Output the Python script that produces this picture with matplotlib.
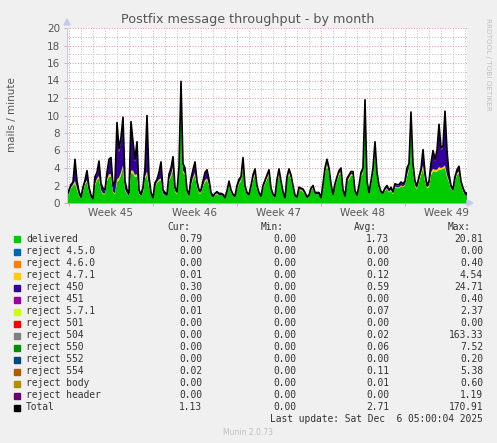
import numpy as np
import matplotlib
matplotlib.use("Agg")
from matplotlib import pyplot as plt
from matplotlib.patches import Rectangle, Polygon

# munin postfix_mailstats, monthly view, one sample every 4 hours
delivered = [
    0.8, 1.0, 1.7, 2.0, 2.2, 1.5, 0.8, 0.5, 1.3, 2.2,
    2.4, 1.2, 0.6, 0.4, 2.0, 2.6, 2.8, 1.4, 1.0, 1.0,
    2.5, 3.0, 3.0, 1.2, 1.0, 2.4, 2.6, 3.2, 4.0, 1.5,
    1.0, 0.8, 3.4, 3.4, 3.0, 3.0, 1.0, 0.8, 1.2, 2.8,
    3.2, 1.8, 1.0, 0.5, 1.8, 2.3, 2.5, 2.6, 1.0, 0.9,
    0.8, 2.5, 3.0, 3.8, 1.3, 1.0, 3.5, 12.9, 3.5, 3.2,
    1.1, 0.7, 2.0, 2.7, 3.2, 1.8, 1.1, 1.1, 1.9, 2.4,
    2.6, 2.0, 0.9, 0.6, 0.9, 1.0, 0.9, 0.9, 0.8, 0.5,
    1.1, 2.1, 1.2, 0.8, 0.6, 1.6, 2.2, 2.5, 4.3, 1.6,
    1.0, 0.8, 1.6, 2.6, 3.2, 1.6, 1.0, 0.6, 1.7, 2.2,
    2.7, 3.2, 1.4, 0.8, 0.6, 2.3, 3.3, 2.1, 1.1, 0.5,
    2.6, 3.3, 2.7, 1.7, 0.7, 0.6, 1.5, 1.4, 1.3, 1.0,
    0.6, 0.7, 1.4, 1.7, 1.0, 1.0, 1.0, 0.5, 1.9, 3.4,
    4.3, 3.4, 1.9, 0.8, 1.9, 2.6, 3.2, 3.4, 1.3, 0.7,
    2.4, 2.7, 3.1, 3.1, 1.2, 0.8, 1.7, 3.0, 3.4, 10.8,
    2.1, 1.0, 2.1, 3.3, 6.0, 3.0, 1.7, 1.1, 1.0, 1.4,
    1.6, 1.2, 1.4, 1.0, 1.8, 1.7, 1.7, 1.9, 1.8, 2.0,
    3.0, 3.8, 9.3, 3.6, 1.9, 1.6, 2.4, 3.2, 4.0, 2.5,
    1.7, 1.8, 3.2, 3.6, 3.6, 3.6, 3.8, 3.8, 3.9, 4.0,
    3.0, 2.4, 1.6, 1.3, 2.5, 3.2, 3.4, 2.0, 1.3, 0.9,
    0.79,
]
reject_471 = [
    0.0, 0.1, 0.1, 0.1, 0.3, 0.2, 0.1, 0.0, 0.1, 0.1,
    0.2, 0.1, 0.0, 0.0, 0.2, 0.2, 0.3, 0.1, 0.1, 0.1,
    0.2, 0.3, 0.3, 0.1, 0.1, 0.3, 0.3, 0.3, 0.3, 0.1,
    0.1, 0.0, 0.3, 0.3, 0.2, 0.3, 0.1, 0.0, 0.1, 0.2,
    0.4, 0.2, 0.0, 0.0, 0.1, 0.1, 0.2, 0.2, 0.1, 0.0,
    0.0, 0.2, 0.2, 0.3, 0.1, 0.1, 0.2, 0.2, 0.2, 0.2,
    0.1, 0.0, 0.1, 0.2, 0.3, 0.1, 0.1, 0.1, 0.1, 0.2,
    0.2, 0.1, 0.0, 0.0, 0.1, 0.1, 0.0, 0.0, 0.0, 0.0,
    0.1, 0.1, 0.1, 0.0, 0.0, 0.1, 0.1, 0.2, 0.3, 0.1,
    0.0, 0.0, 0.1, 0.2, 0.2, 0.1, 0.0, 0.0, 0.1, 0.1,
    0.2, 0.2, 0.1, 0.0, 0.0, 0.1, 0.2, 0.1, 0.0, 0.0,
    0.1, 0.2, 0.2, 0.1, 0.0, 0.0, 0.1, 0.1, 0.1, 0.0,
    0.0, 0.0, 0.1, 0.1, 0.0, 0.0, 0.0, 0.0, 0.1, 0.2,
    0.2, 0.2, 0.1, 0.0, 0.1, 0.1, 0.2, 0.2, 0.0, 0.0,
    0.1, 0.2, 0.2, 0.2, 0.0, 0.0, 0.1, 0.2, 0.2, 0.3,
    0.1, 0.0, 0.1, 0.2, 0.3, 0.2, 0.1, 0.0, 0.0, 0.1,
    0.1, 0.1, 0.1, 0.1, 0.1, 0.1, 0.1, 0.1, 0.1, 0.1,
    0.2, 0.2, 0.3, 0.2, 0.1, 0.1, 0.2, 0.2, 0.3, 0.2,
    0.1, 0.2, 0.3, 0.3, 0.2, 0.2, 0.3, 0.2, 0.2, 0.3,
    0.2, 0.1, 0.1, 0.0, 0.1, 0.2, 0.2, 0.1, 0.1, 0.0,
    0.01,
]
reject_450 = [
    0.1, 0.3, 0.2, 0.2, 2.3, 0.6, 0.3, 0.2, 0.3, 0.2,
    0.9, 0.4, 0.3, 0.1, 0.7, 0.5, 1.5, 0.6, 0.5, 0.3,
    0.6, 1.5, 1.6, 0.6, 1.3, 6.1, 2.9, 3.6, 5.0, 0.8,
    0.3, 0.4, 5.1, 2.9, 1.5, 3.3, 0.3, 0.2, 0.4, 0.8,
    5.9, 0.8, 0.2, 0.1, 0.3, 0.2, 0.7, 1.7, 0.3, 0.3,
    0.2, 0.5, 0.6, 1.0, 0.3, 0.1, 0.3, 0.6, 0.6, 0.4,
    0.2, 0.3, 0.6, 0.8, 1.0, 0.5, 0.2, 0.2, 0.4, 0.8,
    0.8, 0.5, 0.3, 0.2, 0.1, 0.1, 0.2, 0.2, 0.2, 0.1,
    0.1, 0.2, 0.1, 0.2, 0.2, 0.2, 0.3, 0.2, 0.4, 0.2,
    0.2, 0.2, 0.2, 0.3, 0.3, 0.2, 0.2, 0.2, 0.1, 0.2,
    0.2, 0.2, 0.1, 0.2, 0.2, 0.2, 0.2, 0.2, 0.2, 0.1,
    0.2, 0.2, 0.2, 0.1, 0.2, 0.1, 0.1, 0.1, 0.1, 0.2,
    0.1, 0.2, 0.1, 0.1, 0.2, 0.2, 0.2, 0.1, 0.1, 0.2,
    0.3, 0.2, 0.1, 0.2, 0.1, 0.2, 0.2, 0.2, 0.2, 0.1,
    0.2, 0.2, 0.2, 0.2, 0.2, 0.1, 0.1, 0.2, 0.2, 0.4,
    0.2, 0.2, 0.2, 0.3, 0.4, 0.2, 0.1, 0.2, 0.2, 0.1,
    0.2, 0.1, 0.2, 0.2, 0.2, 0.2, 0.2, 0.3, 0.2, 0.3,
    0.6, 0.3, 0.5, 0.5, 0.4, 0.2, 0.3, 0.3, 1.6, 0.6,
    0.1, 0.4, 0.8, 1.9, 1.0, 2.0, 4.6, 2.1, 2.2, 5.9,
    2.6, 0.7, 0.2, 0.3, 0.3, 0.3, 0.4, 0.3, 0.2, 0.3,
    0.30,
]
reject_554 = [
    0.0, 0.1, 0.1, 0.1, 0.2, 0.2, 0.1, 0.0, 0.1, 0.1,
    0.2, 0.1, 0.0, 0.0, 0.1, 0.2, 0.2, 0.1, 0.1, 0.1,
    0.2, 0.2, 0.3, 0.1, 0.1, 0.4, 0.4, 0.4, 0.5, 0.1,
    0.1, 0.0, 0.5, 0.4, 0.3, 0.4, 0.1, 0.0, 0.1, 0.2,
    0.5, 0.2, 0.0, 0.0, 0.1, 0.1, 0.1, 0.2, 0.1, 0.0,
    0.0, 0.1, 0.2, 0.2, 0.1, 0.1, 0.2, 0.2, 0.2, 0.2,
    0.1, 0.0, 0.1, 0.1, 0.2, 0.1, 0.1, 0.1, 0.1, 0.1,
    0.2, 0.1, 0.0, 0.0, 0.0, 0.1, 0.0, 0.0, 0.0, 0.0,
    0.1, 0.1, 0.1, 0.0, 0.0, 0.1, 0.1, 0.1, 0.2, 0.1,
    0.0, 0.0, 0.1, 0.1, 0.2, 0.1, 0.0, 0.0, 0.1, 0.1,
    0.1, 0.2, 0.1, 0.0, 0.0, 0.1, 0.2, 0.1, 0.0, 0.0,
    0.1, 0.2, 0.1, 0.1, 0.0, 0.0, 0.1, 0.1, 0.1, 0.0,
    0.0, 0.0, 0.1, 0.1, 0.0, 0.0, 0.0, 0.0, 0.1, 0.2,
    0.2, 0.2, 0.1, 0.0, 0.1, 0.1, 0.1, 0.2, 0.0, 0.0,
    0.1, 0.1, 0.1, 0.1, 0.0, 0.0, 0.1, 0.1, 0.2, 0.3,
    0.1, 0.0, 0.1, 0.2, 0.3, 0.1, 0.1, 0.0, 0.0, 0.1,
    0.1, 0.1, 0.1, 0.0, 0.1, 0.1, 0.1, 0.1, 0.1, 0.1,
    0.2, 0.2, 0.3, 0.2, 0.1, 0.1, 0.1, 0.2, 0.2, 0.2,
    0.1, 0.1, 0.2, 0.2, 0.2, 0.2, 0.3, 0.2, 0.2, 0.3,
    0.2, 0.1, 0.1, 0.0, 0.1, 0.1, 0.2, 0.1, 0.1, 0.0,
    0.02,
]

step_hours = 4
week_labels = ["Week 45", "Week 46", "Week 47", "Week 48", "Week 49"]
first_monday = 3  # hours after the left edge of the graph

names = ["delivered", "reject 4.5.0", "reject 4.6.0", "reject 4.7.1", "reject 450",
         "reject 451", "reject 5.7.1", "reject 501", "reject 504", "reject 550",
         "reject 552", "reject 554", "reject body", "reject header", "Total"]
colors = ["#00CC00", "#0066B3", "#FF8000", "#FFCC00", "#330099",
          "#990099", "#CCFF00", "#FF0000", "#808080", "#008F00",
          "#00487D", "#B35A00", "#B38F00", "#6B006B", "#000000"]
cur = ["0.79", "0.00", "0.00", "0.01", "0.30", "0.00", "0.01", "0.00", "0.00",
       "0.00", "0.00", "0.02", "0.00", "0.00", "1.13"]
mins = ["0.00"] * 15
avgs = ["1.73", "0.00", "0.00", "0.12", "0.59", "0.00", "0.07", "0.00", "0.02",
        "0.06", "0.00", "0.11", "0.01", "0.00", "2.71"]
maxs = ["20.81", "0.00", "0.40", "4.54", "24.71", "0.40", "2.37", "0.00", "163.33",
        "7.52", "0.20", "5.38", "0.60", "1.19", "170.91"]

W, H = 497, 443
def fx(px):
    return px / W
def fy(py):
    return 1 - py / H

fig = plt.figure(figsize=(W / 100, H / 100), dpi=100, facecolor="#F0F0F0")
ax = fig.add_axes([fx(67), fy(203), fx(467) - fx(67), fy(28) - fy(203)])
ax.set_facecolor("white")

hours = np.arange(len(delivered)) * step_hours
layers = [np.array(delivered), np.array(reject_471), np.array(reject_450), np.array(reject_554)]
total = np.sum(layers, axis=0)

ax.stackplot(hours, *layers, colors=["#00CC00", "#FFCC00", "#330099", "#B35A00"],
             linewidth=0, zorder=3)
ax.plot(hours, total, color="black", lw=1.2, zorder=4)

ax.set_xlim(0, 800)
ax.set_ylim(0, 20)

# grid: days / weeks and 1 / 2 mails per minute
red_grid, gray_grid = "#E4A0A0", "#C4C4C4"
for h in range(first_monday, 800, 24):
    major = (h - first_monday) % 168 == 0
    ax.axvline(h, color=red_grid if major else gray_grid, lw=0.75,
               ls=(0, (1, 1.5)), zorder=1)
for v in range(1, 21):
    ax.axhline(v, color=red_grid if v % 2 == 0 else gray_grid, lw=0.75,
               ls=(0, (1, 1.5)), zorder=1)

for s in ["top", "right", "left"]:
    ax.spines[s].set_visible(False)
ax.spines["bottom"].set_color("#B0B0B0")
ax.spines["bottom"].set_linewidth(0.8)
ax.axvline(0, color="#C8C8E8", lw=0.8, zorder=5)

ax.set_yticks(range(0, 21, 2))
ax.set_yticklabels([str(v) for v in range(0, 21, 2)])
ax.tick_params(axis="y", length=2, width=0.6, color="#B0B0B0", pad=3,
               labelsize=7.5, labelcolor="#555555")
ax.set_xticks([first_monday + 168 * k for k in range(5)])
ax.set_xticklabels([])
ax.tick_params(axis="x", length=2, width=0.6, color="#E4A0A0")
for k, lab in enumerate(week_labels):
    ax.text(first_monday + 84 + 168 * k, -0.55, lab, ha="center", va="top",
            fontsize=7.5, color="#555555")

# axis arrows
fig.add_artist(Polygon([[fx(64), fy(25)], [fx(70), fy(25)], [fx(67), fy(19)]],
                       closed=True, color="#C8C8F0", transform=fig.transFigure))
fig.add_artist(Polygon([[fx(467), fy(200)], [fx(467), fy(206)], [fx(473), fy(203)]],
                       closed=True, color="#C8C8F0", transform=fig.transFigure))

fig.text(fx(248), fy(20), "Postfix message throughput - by month", ha="center",
         va="center", fontsize=9.2, color="#555555")
fig.text(fx(12), fy(115), "mails / minute", rotation=90, ha="center", va="center",
         fontsize=7.5, color="#555555")
fig.text(fx(488), fy(18), "RRDTOOL / TOBI OETIKER", rotation=270, ha="center",
         va="top", fontsize=5.2, color="#C0C0C0")

# legend table
mono = dict(family="DejaVu Sans Mono", fontsize=6.9, color="#333333", va="center")
col_right = [202, 296, 389, 483]
for x, head in zip(col_right, ["Cur:", "Min:", "Avg:", "Max:"]):
    fig.text(fx(x - 12), fy(227), head, ha="right", **mono)
for i, name in enumerate(names):
    y = 239.5 + 12 * i
    fig.add_artist(Rectangle((fx(14), fy(y + 3)), fx(6), 6 / H, color=colors[i],
                             transform=fig.transFigure))
    fig.text(fx(26), fy(y), name, ha="left", **mono)
    for x, col in zip(col_right, [cur, mins, avgs, maxs]):
        fig.text(fx(x), fy(y), col[i], ha="right", **mono)
fig.text(fx(483), fy(419.5), "Last update: Sat Dec  6 05:00:04 2025", ha="right", **mono)
fig.text(fx(248), fy(432.5), "Munin 2.0.73", ha="center", va="center",
         fontsize=5.5, color="#C0C0C0")

fig.savefig("out.png", dpi=100, facecolor=fig.get_facecolor())
